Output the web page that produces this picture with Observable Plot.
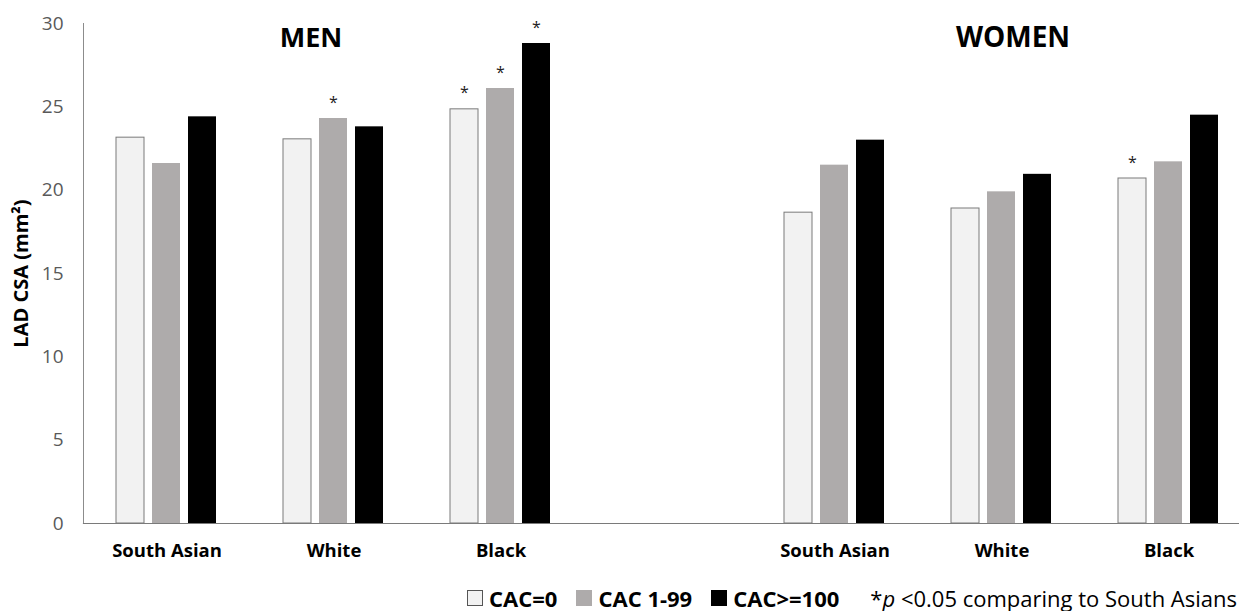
<!DOCTYPE html>
<html>
<head>
<meta charset="utf-8">
<script src="https://cdn.jsdelivr.net/npm/d3@7"></script>
<script src="https://cdn.jsdelivr.net/npm/@observablehq/plot@0.6"></script>
<style>
  html, body { margin: 0; padding: 0; background: #fff; overflow: hidden; width: 1239px; }
  #chart { width: 1239px; height: 575px; overflow: hidden; }
  #chart svg { max-width: none !important; display: block; }
  #legend { width: 1239px; box-sizing: border-box; display: flex; justify-content: flex-end; align-items: center;
    font-family: "Open Sans", sans-serif; font-size: 22px; color: #000; padding-right: 2px; margin-top: 10px; line-height: 26px; }
  .sw { display: inline-block; width: 16px; height: 16px; margin-right: 6px; box-sizing: border-box; }
  .lab { font-weight: bold; margin-right: 19px; }
</style>
</head>
<body>
<div id="chart"></div>
<div id="legend"></div>
<script>
// ---- data ----
const sexes = ["MEN", "WOMEN"];
const ethnicities = ["South Asian", "White", "Black"];
const series = ["CAC=0", "CAC 1-99", "CAC>=100"];
const seriesColors = ["#f2f2f2", "#aeabab", "#000000"];
// values per ethnicity, in series order
const menValues = [[23.15, 21.6, 24.4], [23.05, 24.3, 23.8], [24.85, 26.1, 28.8]];
const womenValues = [[18.65, 21.5, 23.0], [18.9, 19.9, 20.95], [20.7, 21.7, 24.5]];
// significance (*p<0.05 vs South Asians)
const menSig = [[0, 0, 0], [0, 1, 0], [1, 1, 1]];
const womenSig = [[0, 0, 0], [0, 0, 0], [1, 0, 0]];
const yTicks = [0, 5, 10, 15, 20, 25, 30];
const yTitle = "LAD CSA (mm²)";

// ---- build table ----
const rows = [];
[menValues, womenValues].forEach((vals, si) => {
  const sig = si === 0 ? menSig : womenSig;
  ethnicities.forEach((eth, ei) => {
    series.forEach((s, k) => {
      rows.push({sex: sexes[si], group: sexes[si] + "|" + eth, series: s, value: vals[ei][k], sig: sig[ei][k] === 1});
    });
  });
});
const facetDomain = [
  ...ethnicities.map(e => "MEN|" + e), "gap",
  ...ethnicities.map(e => "WOMEN|" + e)
];

const font = "'Open Sans', sans-serif";
const chart = Plot.plot({
  width: 1252,
  height: 575,
  marginLeft: 83,
  marginRight: 0,
  marginTop: 23,
  marginBottom: 52,
  style: {fontFamily: font, background: "#fff", maxWidth: "none"},
  fx: {domain: facetDomain, padding: 0, label: null, axis: null},
  x: {domain: series, paddingInner: 0.216, paddingOuter: 0.865, axis: null},
  y: {domain: [0, 30], axis: null},
  color: {domain: series, range: seriesColors},
  marks: [
    Plot.axisY({ticks: yTicks, tickSize: 0, tickPadding: 20, fontSize: 19, color: "#595959", label: null, facetAnchor: "left"}),
    Plot.frame({anchor: "left", facet: "super", stroke: "#8c8c8c", strokeWidth: 1}),
    Plot.text([yTitle], {facet: "super", frameAnchor: "left", textAnchor: "middle", text: d => d, rotate: -90, dx: -62,
      fontSize: 20, fontWeight: "bold", fill: "#000"}),
    Plot.barY(rows, {fx: "group", x: "series", y: "value", fill: "series",
      stroke: d => d.series === "CAC=0" ? "#7a7a7a" : "none", strokeWidth: 1}),
    Plot.frame({anchor: "bottom", facet: "super", stroke: "#7a7a7a", strokeWidth: 1.2}),
    Plot.text(rows.filter(d => d.sig), {fx: "group", x: "series", y: "value", text: () => "*",
      dy: -16, fontSize: 16, fill: "#222"}),
    Plot.text([{group: "MEN|White", label: "MEN"}], {fx: "group", text: "label", y: () => 29.1, frameAnchor: "middle", dx: -23,
      fontSize: 27, fontWeight: "bold", fill: "#000"}),
    Plot.text([{group: "WOMEN|White", label: "WOMEN"}], {fx: "group", text: "label", y: () => 29.1, frameAnchor: "middle", dx: 11,
      fontSize: 28, fontWeight: "bold", fill: "#000"}),
    Plot.axisFx({domain: facetDomain, anchor: "bottom", tickSize: 0, tickPadding: 20, fontSize: 18.5, fontWeight: "bold",
      color: "#000", label: null, tickFormat: d => d === "gap" ? "" : d.split("|")[1]})
  ]
});
document.getElementById("chart").appendChild(chart);

// ---- legend ----
const legend = document.getElementById("legend");
series.forEach((s, i) => {
  const sw = document.createElement("span");
  sw.className = "sw";
  sw.style.background = seriesColors[i];
  sw.style.border = i === 0 ? "1px solid #555" : "none";
  legend.appendChild(sw);
  const lab = document.createElement("span");
  lab.className = "lab";
  lab.textContent = s;
  legend.appendChild(lab);
});
const note = document.createElement("span");
note.style.marginLeft = "12px";
note.innerHTML = "*<i>p</i> &lt;0.05 comparing to South Asians";
legend.appendChild(note);
</script>
</body>
</html>
